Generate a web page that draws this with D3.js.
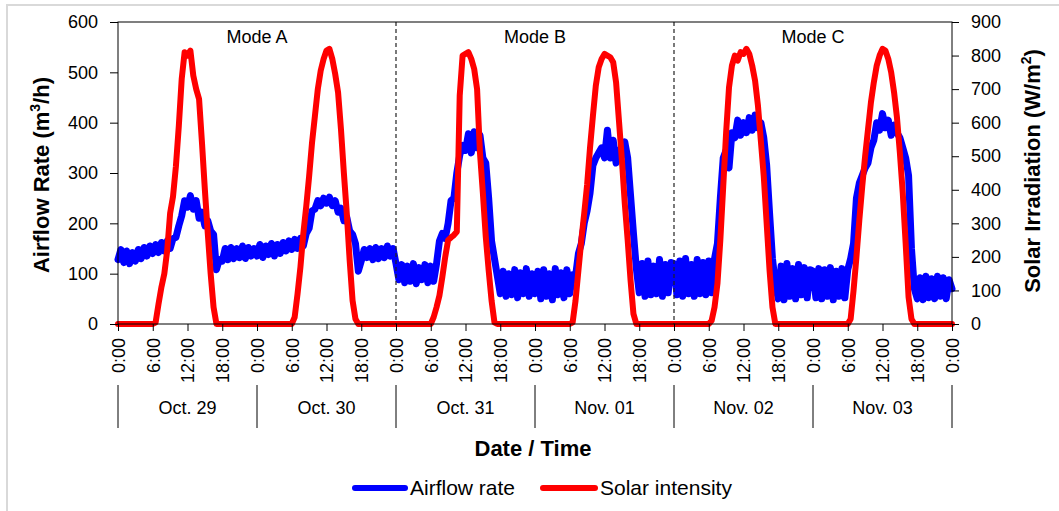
<!DOCTYPE html>
<html>
<head>
<meta charset="utf-8">
<script src="https://cdn.jsdelivr.net/npm/d3@7"></script>
<style>
  html, body { margin: 0; padding: 0; background: #fff; }
  svg { display: block; font-family: "Liberation Sans", Arial, sans-serif; }
</style>
</head>
<body>
<svg id="chart" width="1059" height="511"></svg>
<script>
// ---- Data (half-hourly readings, 48 per day) ----
const days = ["Oct. 29", "Oct. 30", "Oct. 31", "Nov. 01", "Nov. 02", "Nov. 03"];
const hourTickLabels = ["0:00", "6:00", "12:00", "18:00"];
const modes = ["Mode A", "Mode B", "Mode C"];
const airflowTicks = [0, 100, 200, 300, 400, 500, 600];
const solarTicks = [0, 100, 200, 300, 400, 500, 600, 700, 800, 900];

const airflowOct29 = [128,148,122,145,120,142,125,148,130,152,135,155,140,158,142,162,145,165,150,170,172,195,215,245,232,255,228,245,210,222,195,205,185,178,108,128,125,150,128,152,130,150,132,155,130,152,135,150];
const airflowOct30 = [135,158,132,155,138,160,135,158,140,162,145,165,148,168,150,170,155,180,190,225,228,245,235,250,240,252,235,245,222,230,205,212,185,178,160,105,125,148,132,150,128,152,130,150,132,155,135,150];
const airflowOct31 = [120,88,118,82,115,85,120,80,112,88,118,82,115,85,120,165,180,170,200,245,250,300,335,355,345,378,340,382,350,375,330,320,250,165,130,95,60,105,55,100,58,108,52,102,60,110,55,100];
const airflowNov01 = [60,105,50,108,55,100,48,110,58,102,52,108,60,98,95,140,160,200,225,260,315,330,340,350,330,385,330,365,320,345,350,362,330,255,180,110,62,120,55,125,58,115,60,128,55,118,62,122];
const airflowNov02 = [120,58,125,55,130,60,118,55,128,60,122,58,125,62,130,160,250,330,345,310,380,370,405,375,400,380,410,385,415,390,400,370,315,220,130,80,50,115,48,120,55,110,50,118,58,112,52,108];
const airflowNov03 = [105,52,110,50,108,55,112,48,105,55,110,52,108,130,160,250,280,295,310,320,350,365,400,385,418,390,405,375,395,380,370,350,330,295,150,70,50,92,48,95,52,90,50,95,55,92,50,88];
const airflowEnd = 70;

const solarOct29 = [0,0,0,0,0,0,0,0,0,0,0,0,0,5,60,110,150,220,330,380,470,590,730,810,800,815,740,700,670,540,400,270,150,50,0,0,0,0,0,0,0,0,0,0,0,0,0,0];
const solarOct30 = [0,0,0,0,0,0,0,0,0,0,0,0,0,20,90,170,270,350,440,540,620,700,755,790,815,820,790,745,690,580,450,330,190,70,15,0,0,0,0,0,0,0,0,0,0,0,0,0];
const solarOct31 = [0,0,0,0,0,0,0,0,0,0,0,0,0,20,50,85,140,200,250,258,265,275,680,800,805,810,790,760,700,510,390,260,160,70,5,0,0,0,0,0,0,0,0,0,0,0,0,0];
const solarNov01 = [0,0,0,0,0,0,0,0,0,0,0,0,0,5,70,160,250,330,415,525,620,710,765,790,805,800,795,780,720,605,490,360,250,130,30,0,0,0,0,0,0,0,0,0,0,0,0,0];
const solarNov02 = [0,0,0,0,0,0,0,0,0,0,0,0,0,10,50,120,250,410,570,705,770,800,785,810,805,820,805,770,725,650,545,440,300,160,50,0,0,0,0,0,0,0,0,0,0,0,0,0];
const solarNov03 = [0,0,0,0,0,0,0,0,0,0,0,0,0,15,100,200,310,410,500,580,660,720,770,800,820,815,790,750,690,615,510,390,240,80,15,0,0,0,0,0,0,0,0,0,0,0,0,0];
const solarEnd = 0;

// ---- Build series ----
const airflow = [].concat(airflowOct29, airflowOct30, airflowOct31, airflowNov01, airflowNov02, airflowNov03, [airflowEnd]);
const solar = [].concat(solarOct29, solarOct30, solarOct31, solarNov01, solarNov02, solarNov03, [solarEnd]);
const airData = airflow.map((v, i) => ({ h: i * 0.5, v }));
const solData = solar.map((v, i) => ({ h: i * 0.5, v }));

// ---- Layout ----
const svg = d3.select("#chart");
const L = 118, R = 952, T = 22, B = 324;

svg.append("rect").attr("x", 0).attr("y", 0).attr("width", 1059).attr("height", 511).attr("fill", "#fff");
svg.append("rect").attr("x", 7).attr("y", 5).attr("width", 1200).attr("height", 700)
  .attr("fill", "#fff").attr("stroke", "#d9d9d9").attr("stroke-width", 2);

const x = d3.scaleLinear().domain([0, days.length * 24]).range([L, R]);
const yL = d3.scaleLinear().domain([0, 600]).range([B, T]);
const yR = d3.scaleLinear().domain([0, 900]).range([B, T]);

// Series lines
const lineA = d3.line().x(d => x(d.h)).y(d => yL(d.v));
const lineS = d3.line().x(d => x(d.h)).y(d => yR(d.v));

svg.append("path").datum(airData).attr("d", lineA)
  .attr("fill", "none").attr("stroke", "#0000FF").attr("stroke-width", 7)
  .attr("stroke-linejoin", "round").attr("stroke-linecap", "round");
svg.append("path").datum(solData).attr("d", lineS)
  .attr("fill", "none").attr("stroke", "#FF0000").attr("stroke-width", 6)
  .attr("stroke-linejoin", "round").attr("stroke-linecap", "round");

// Mode separators (dashed), drawn over the series
[48, 96].forEach(h => {
  svg.append("line").attr("x1", x(h)).attr("x2", x(h)).attr("y1", T).attr("y2", B)
    .attr("stroke", "#222").attr("stroke-width", 1.2).attr("stroke-dasharray", "4,3");
});

// Plot frame
svg.append("rect").attr("x", L).attr("y", T).attr("width", R - L).attr("height", B - T)
  .attr("fill", "none").attr("stroke", "#000").attr("stroke-width", 1);

// Left axis
const axL = svg.append("g").attr("transform", `translate(${L},0)`)
  .call(d3.axisLeft(yL).tickValues(airflowTicks).tickSize(8).tickPadding(12));
axL.select(".domain").remove();
axL.selectAll("text").attr("font-size", 18).attr("font-family", "Liberation Sans, Arial, sans-serif").attr("fill", "#000");

// Right axis
const axR = svg.append("g").attr("transform", `translate(${R},0)`)
  .call(d3.axisRight(yR).tickValues(solarTicks).tickSize(7).tickPadding(12));
axR.select(".domain").remove();
axR.selectAll("text").attr("font-size", 18).attr("font-family", "Liberation Sans, Arial, sans-serif").attr("fill", "#000");

// Bottom axis (every 6 hours)
const hourTicks = d3.range(0, days.length * 24 + 1, 6);
const axB = svg.append("g").attr("transform", `translate(0,${B})`)
  .call(d3.axisBottom(x).tickValues(hourTicks).tickSize(7)
    .tickFormat(h => hourTickLabels[(h % 24) / 6]));
axB.select(".domain").remove();
axB.selectAll("text")
  .attr("font-size", 18).attr("font-family", "Liberation Sans, Arial, sans-serif").attr("fill", "#000")
  .attr("y", 0).attr("x", -14).attr("dy", "0.36em")
  .attr("transform", "rotate(-90)").style("text-anchor", "end");

// Day separators and labels
d3.range(0, days.length + 1).forEach(d => {
  svg.append("line").attr("x1", x(d * 24)).attr("x2", x(d * 24)).attr("y1", 385).attr("y2", 428)
    .attr("stroke", "#000").attr("stroke-width", 1);
});
days.forEach((name, d) => {
  svg.append("text").attr("x", x(d * 24 + 12)).attr("y", 414)
    .attr("text-anchor", "middle").attr("font-size", 18).text(name);
});

// Mode labels
modes.forEach((m, i) => {
  svg.append("text").attr("x", x(i * 48 + 24)).attr("y", 43)
    .attr("text-anchor", "middle").attr("font-size", 18).text(m);
});

// Axis titles
const tL = svg.append("text").attr("transform", "translate(49,175) rotate(-90)")
  .attr("text-anchor", "middle").attr("font-size", 22).attr("font-weight", "bold");
tL.append("tspan").text("Airflow Rate (m");
tL.append("tspan").attr("font-size", 14).attr("dy", -9).text("3");
tL.append("tspan").attr("dy", 9).text("/h)");

const tR = svg.append("text").attr("transform", "translate(1040,171) rotate(-90)")
  .attr("text-anchor", "middle").attr("font-size", 22).attr("font-weight", "bold");
tR.append("tspan").text("Solar Irradiation (W/m");
tR.append("tspan").attr("font-size", 14).attr("dy", -9).text("2");
tR.append("tspan").attr("dy", 9).text(")");

svg.append("text").attr("x", 533).attr("y", 456).attr("text-anchor", "middle")
  .attr("font-size", 22).attr("font-weight", "bold").text("Date / Time");

// Legend
const legend = [
  { label: "Airflow rate", color: "#0000FF", x1: 355, x2: 405, tx: 410 },
  { label: "Solar intensity", color: "#FF0000", x1: 543, x2: 595, tx: 600 }
];
legend.forEach(l => {
  svg.append("line").attr("x1", l.x1).attr("x2", l.x2).attr("y1", 488).attr("y2", 488)
    .attr("stroke", l.color).attr("stroke-width", 6).attr("stroke-linecap", "round");
  svg.append("text").attr("x", l.tx).attr("y", 495).attr("font-size", 21).text(l.label);
});
</script>
</body>
</html>
